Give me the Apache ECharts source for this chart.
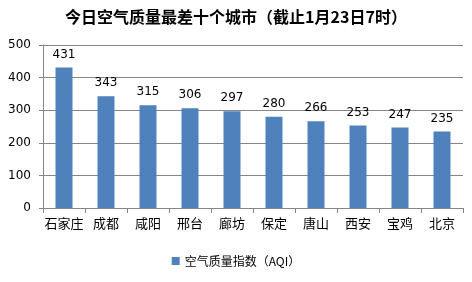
<!DOCTYPE html>
<html><head><meta charset="utf-8">
<script src="https://cdn.jsdelivr.net/npm/echarts@6/dist/echarts.min.js"></script>
<style>html,body{margin:0;padding:0;background:#fff}#c{width:472px;height:282px}</style>
</head><body><div id="c"></div>
<script>
const categories = ['石家庄','成都','咸阳','邢台','廊坊','保定','唐山','西安','宝鸡','北京'];
const aqiValues = [431,343,315,306,297,280,266,253,247,235];
const seriesName = '空气质量指数（AQI）';
const titleText = '今日空气质量最差十个城市（截止1月23日7时）';

const chart = echarts.init(document.getElementById('c'), null, {renderer:'canvas'});
chart.setOption({
  animation:false,
  backgroundColor:'#fff',
  title:{text:titleText,left:'center',top:4,textStyle:{fontFamily:'Noto Sans CJK SC',fontSize:16,fontWeight:'bold',color:'#000'}},
  legend:{bottom:10,left:'center',itemWidth:8,itemHeight:8,icon:'rect',itemGap:4,
    textStyle:{fontFamily:'Noto Sans CJK SC',fontSize:12,color:'#000'},data:[seriesName]},
  grid:{left:43,right:9,top:45,bottom:74,containLabel:false},
  xAxis:{type:'category',data:categories,
    axisLine:{lineStyle:{color:'#868686'}},
    axisTick:{show:true,alignWithLabel:false,length:5,lineStyle:{color:'#868686'}},
    axisLabel:{interval:0,fontFamily:'Noto Sans CJK SC',fontSize:13,color:'#000',margin:9}},
  yAxis:{type:'value',min:0,max:500,interval:100,
    axisLine:{show:true,lineStyle:{color:'#868686'}},
    axisTick:{show:true,length:4,lineStyle:{color:'#868686'}},
    splitLine:{lineStyle:{color:'#868686'}},
    axisLabel:{fontFamily:'DejaVu Sans',fontSize:12,color:'#000',margin:12}},
  series:[{name:seriesName,type:'bar',data:aqiValues,barWidth:17,
    itemStyle:{color:'#4F81BD'},
    label:{show:true,position:'top',distance:7,fontFamily:'DejaVu Sans',fontSize:12,color:'#000'}}]
});
</script></body></html>
